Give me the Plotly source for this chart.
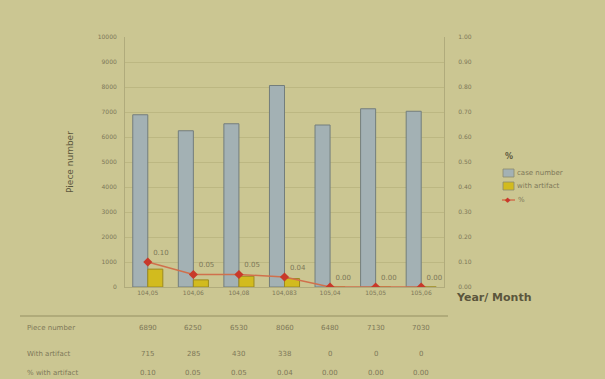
import plotly.graph_objects as go

months = ["104,05", "104,06", "104,08", "104,083", "105,04", "105,05", "105,06"]
piece_number = [6890, 6250, 6530, 8060, 6480, 7130, 7030]
with_artifact = [715, 285, 430, 338, 0, 0, 0]
pct = [0.10, 0.05, 0.05, 0.04, 0.00, 0.00, 0.00]
pct_labels = ["0.10", "0.05", "0.05", "0.04", "0.00", "0.00", "0.00"]
left_ticks = list(range(0, 10001, 1000))
right_ticks = [i / 10 for i in range(11)]

BG = "#cbc692"
TXT = "#7d7758"
DARK = "#5b563c"
BLUE = "#a3b1b4"
YELLOW = "#d2bb1e"
RED = "#c8392a"
LINE = "#d0704c"

W, H = 605, 379
L, R, T, B = 125, 161, 37, 92
PW, PH = W - L - R, H - T - B


def px(x):
    return (x - L) / PW


def py(y):
    return (H - B - y) / PH


fig = go.Figure()
fig.add_trace(go.Bar(x=months, y=piece_number, name="case number",
                     marker=dict(color=BLUE, line=dict(color="#737e7c", width=1))))
fig.add_trace(go.Bar(x=months, y=with_artifact, name="with artifact",
                     marker=dict(color=YELLOW, line=dict(color="#9c8a20", width=1))))
fig.add_trace(go.Scatter(x=months, y=pct, name="%", yaxis="y2", mode="lines+markers+text",
                         line=dict(color=LINE, width=1.5),
                         marker=dict(color=RED, size=7, symbol="diamond"),
                         text=pct_labels, textposition="top right",
                         textfont=dict(size=7, color=TXT)))

fig.update_layout(
    width=W, height=H,
    margin=dict(l=L, r=R, t=T, b=B),
    paper_bgcolor=BG, plot_bgcolor=BG,
    barmode="group", bargap=0.34, bargroupgap=0,
    font=dict(family="DejaVu Sans", size=7, color=TXT),
    showlegend=False,
    xaxis=dict(showgrid=False, showline=True, linecolor="#b0ab7c", tickfont=dict(size=6, color=TXT),
               ticks="", tickangle=0),
    yaxis=dict(range=[0, 10000], tickvals=left_ticks, ticktext=[str(v) for v in left_ticks],
               showgrid=True, gridcolor="#bcb782",
               tickfont=dict(size=6, color=TXT), zeroline=False, showline=True, linecolor="#b0ab7c",
               ticklabelstandoff=6,
               title=dict(text="Piece number", font=dict(size=9, color=DARK), standoff=22)),
    yaxis2=dict(range=[0, 1], tickvals=right_ticks, tickformat=".2f", overlaying="y", side="right",
                showgrid=False, tickfont=dict(size=6, color=TXT), zeroline=False, showline=True,
                linecolor="#b0ab7c", ticklabelstandoff=12),
)

fig.add_annotation(text="<b>Year/ Month</b>", xref="paper", yref="paper", x=px(454), y=py(297),
                   xanchor="left", yanchor="middle", showarrow=False, font=dict(size=11, color=DARK))
fig.add_annotation(text="<b>%</b>", xref="paper", yref="paper", x=px(503), y=py(156),
                   xanchor="left", yanchor="middle", showarrow=False, font=dict(size=8, color=DARK))

# manual legend (compact, as in the reference)
legend_items = [("case number", BLUE, 173), ("with artifact", YELLOW, 186)]
for name, col, yy in legend_items:
    fig.add_shape(type="rect", xref="paper", yref="paper", x0=px(503), x1=px(514),
                  y0=py(yy + 4), y1=py(yy - 4), fillcolor=col, line=dict(color="#8c8a70", width=0.8))
    fig.add_annotation(text=name, xref="paper", yref="paper", x=px(515), y=py(yy), xanchor="left",
                       yanchor="middle", showarrow=False, font=dict(size=7, color=TXT))
fig.add_shape(type="line", xref="paper", yref="paper", x0=px(502), x1=px(515), y0=py(200), y1=py(200),
              line=dict(color=LINE, width=1.5))
fig.add_annotation(text="◆", xref="paper", yref="paper", x=px(508.5), y=py(200), showarrow=False,
                   xanchor="center", yanchor="middle", font=dict(size=7, color=RED))
fig.add_annotation(text="%", xref="paper", yref="paper", x=px(516), y=py(200), xanchor="left",
                   yanchor="middle", showarrow=False, font=dict(size=7, color=TXT))

# table under the chart
fig.add_shape(type="line", xref="paper", yref="paper", x0=px(20), x1=px(448), y0=py(316), y1=py(316),
              line=dict(color="#a7a272", width=1.5))
rows = [("Piece number", [str(v) for v in piece_number], 328),
        ("With artifact", [str(v) for v in with_artifact], 354),
        ("% with artifact", pct_labels, 373)]
for label, vals, yy in rows:
    fig.add_annotation(text=label, xref="paper", yref="paper", x=px(25), y=py(yy), xanchor="left",
                       yanchor="middle", showarrow=False, font=dict(size=7, color=TXT))
    for m, v in zip(months, vals):
        fig.add_annotation(text=v, xref="x", yref="paper", x=m, y=py(yy), yanchor="middle",
                           showarrow=False, font=dict(size=7, color=TXT))

fig.write_html("out.html")
